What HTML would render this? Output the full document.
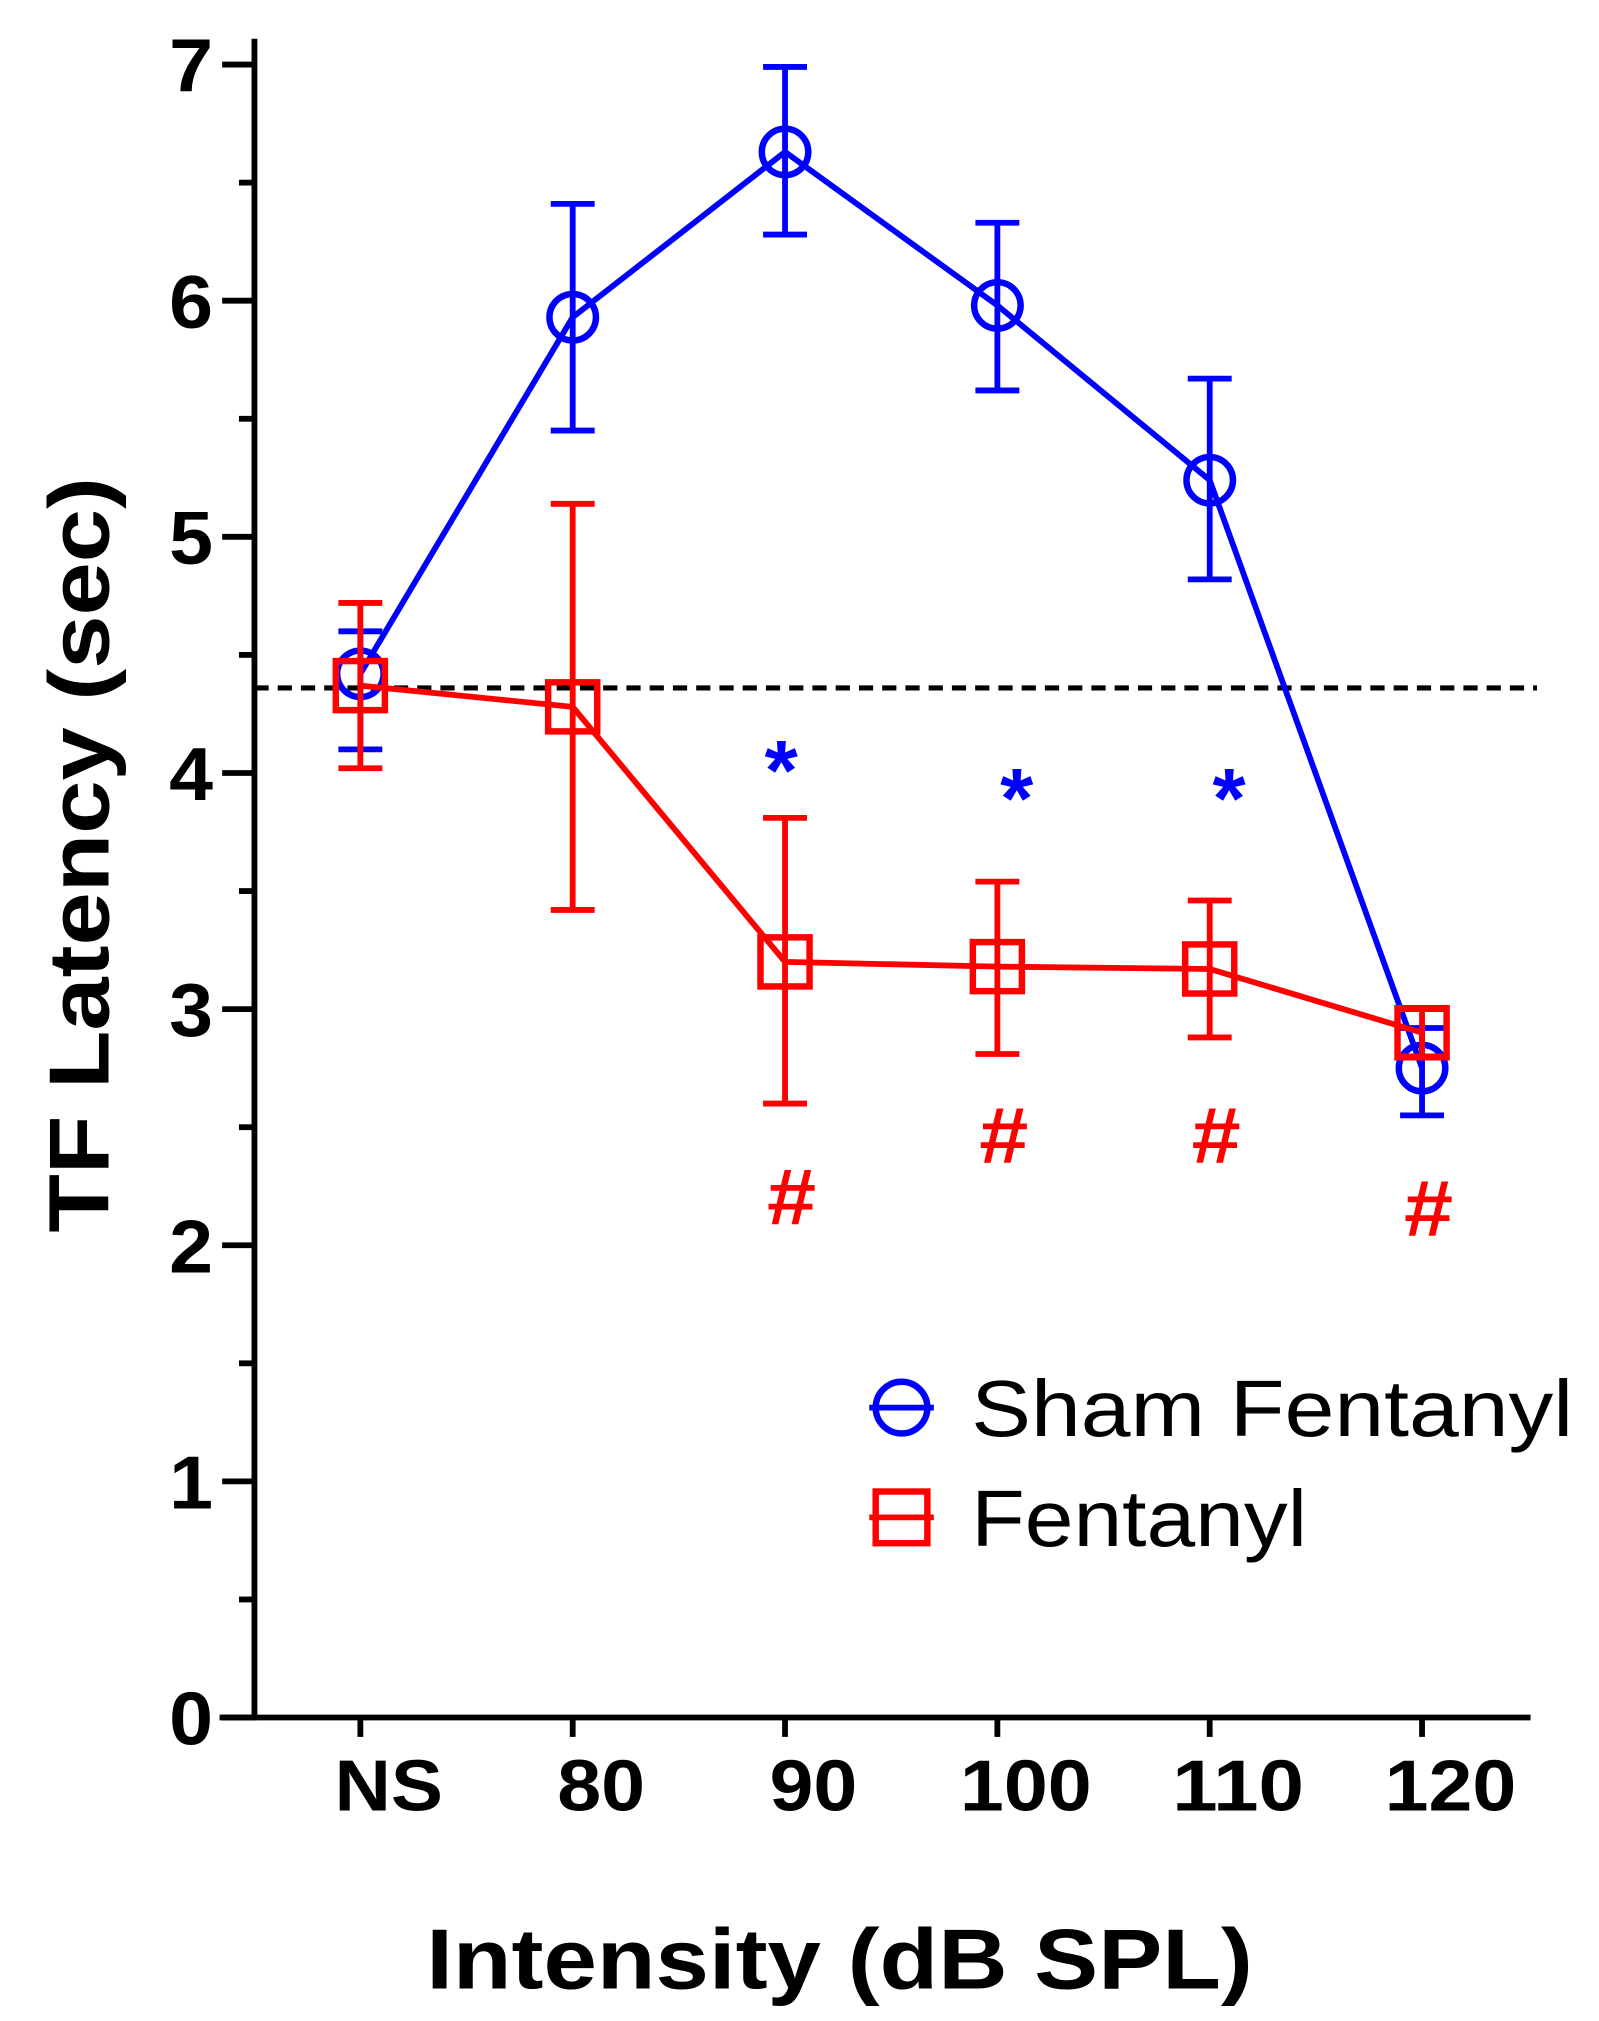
<!DOCTYPE html>
<html><head><meta charset="utf-8"><style>
html,body{margin:0;padding:0;background:#fff}
svg{display:block}
text{font-family:"Liberation Sans",Arial,sans-serif}
</style></head><body>
<svg id="chart" width="1599" height="2021" viewBox="0 0 1238 1565" preserveAspectRatio="none" xmlns="http://www.w3.org/2000/svg">
<g id="axes"></g><g id="series"></g>
</svg>
<script>
const categories = ["NS","80","90","100","110","120"];
const yTicks = [0,1,2,3,4,5,6,7];
const shamMean = [4.42,5.93,6.63,5.98,5.24,2.75];
const shamLow  = [4.10,5.45,6.28,5.62,4.82,2.55];
const shamHigh = [4.60,6.41,6.99,6.33,5.67,2.92];
const fentMean = [4.37,4.28,3.20,3.18,3.17,2.90];
const fentLow  = [4.02,3.42,2.60,2.81,2.88,2.80];
const fentHigh = [4.72,5.14,3.81,3.54,3.46,3.00];
const baseline = 4.36;
const starIdx = [2,3,4];
const starVal = [4.05,3.93,3.93];
const hashIdx = [2,3,4,5];
const hashVal = [2.22,2.48,2.48,2.17];

const NS='http://www.w3.org/2000/svg';
const X0=197, Y0=1330, YU=(1330-50)/7;
const xs=i=>279+i*164.4;
const ys=v=>Y0-v*YU;
function mk(tag,attrs,parent,txt){const e=document.createElementNS(NS,tag);for(const k in attrs)e.setAttribute(k,attrs[k]);if(txt!==undefined)e.textContent=txt;parent.appendChild(e);return e;}
const ax=document.getElementById('axes'), sr=document.getElementById('series');
let e;
e=mk('line',{x1:X0,y1:30,x2:X0,y2:Y0+2,stroke:'#000','stroke-width':4.5},ax);


e=mk('line',{x1:170,y1:Y0,x2:1185,y2:Y0,stroke:'#000','stroke-width':4.5},ax);


for(let v=0;v<=7;v+=0.5){mk('line',{x1:v%1?185:172,y1:ys(v),x2:X0,y2:ys(v),stroke:'#000','stroke-width':4.5},ax);}
yTicks.forEach(v=>{e=mk('text',{x:165,y:ys(v)+21,'text-anchor':'end','font-size':58,'font-weight':'bold',textLength:34,lengthAdjust:'spacingAndGlyphs'},ax,String(v));

});
categories.forEach((c,i)=>{mk('line',{x1:xs(i),y1:Y0,x2:xs(i),y2:Y0+15,stroke:'#000','stroke-width':4.5},ax);
const L=c.length===3?102:(c==='NS'?84:68);
e=mk('text',{x:xs(i)+22,y:1402,'text-anchor':'middle','font-size':56,'font-weight':'bold',textLength:L,lengthAdjust:'spacingAndGlyphs'},ax,c);

});
e=mk('text',{x:650,y:1540,'text-anchor':'middle','font-size':66,'font-weight':'bold',textLength:640,lengthAdjust:'spacingAndGlyphs'},ax,'Intensity (dB SPL)');


e=mk('text',{x:0,y:0,transform:'translate(84,662) rotate(-90)','text-anchor':'middle','font-size':66,'font-weight':'bold',textLength:585,lengthAdjust:'spacingAndGlyphs'},ax,'TF Latency (sec)');


e=mk('line',{x1:X0,y1:ys(baseline),x2:1190,y2:ys(baseline),stroke:'#000','stroke-width':4,'stroke-dasharray':'11,7'},ax);



function series(mean,lo,hi,col,shape,name){
  const g=mk('g',{},sr);
  
  
  mk('polyline',{points:mean.map((v,i)=>xs(i)+','+ys(v)).join(' '),fill:'none',stroke:col,'stroke-width':4.5},g);
  mean.forEach((v,i)=>{
    const x=xs(i);
    mk('line',{x1:x,y1:ys(lo[i]),x2:x,y2:ys(hi[i]),stroke:col,'stroke-width':4.5},g);
    mk('line',{x1:x-17,y1:ys(lo[i]),x2:x+17,y2:ys(lo[i]),stroke:col,'stroke-width':4.5},g);
    mk('line',{x1:x-17,y1:ys(hi[i]),x2:x+17,y2:ys(hi[i]),stroke:col,'stroke-width':4.5},g);
    let m;
    if(shape==='circle') m=mk('circle',{cx:x,cy:ys(v),r:18,fill:'none',stroke:col,'stroke-width':5},g);
    else m=mk('rect',{x:x-19,y:ys(v)-19,width:38,height:38,fill:'none',stroke:col,'stroke-width':5},g);
    
    
  });
}
series(shamMean,shamLow,shamHigh,'#0000ff','circle','sham-fentanyl');
series(fentMean,fentLow,fentHigh,'#ff0000','square','fentanyl');
starIdx.forEach((i,k)=>{e=mk('text',{x:xs(i)+(k?15:-3),y:ys(starVal[k])+30,'text-anchor':'middle','font-size':66,'font-weight':'bold',fill:'#0000ff'},sr,'*');

});
hashIdx.forEach((i,k)=>{e=mk('text',{x:xs(i)+5,y:ys(hashVal[k])+24,'text-anchor':'middle','font-size':62,'font-weight':'bold',fill:'#ff0000',textLength:38,lengthAdjust:'spacingAndGlyphs'},sr,'#');

});
// legend
const lg=mk('g',{},sr);


mk('line',{x1:673,y1:1090,x2:723,y2:1090,stroke:'#0000ff','stroke-width':4.5},lg);
mk('circle',{cx:698,cy:1090,r:20,fill:'none',stroke:'#0000ff','stroke-width':5},lg);
e=mk('text',{x:752,y:1112,'font-size':62,textLength:466,lengthAdjust:'spacingAndGlyphs'},lg,'Sham Fentanyl');


mk('line',{x1:673,y1:1175,x2:723,y2:1175,stroke:'#ff0000','stroke-width':4.5},lg);
mk('rect',{x:678,y:1155,width:40,height:40,fill:'none',stroke:'#ff0000','stroke-width':5},lg);
e=mk('text',{x:752,y:1197,'font-size':62,textLength:260,lengthAdjust:'spacingAndGlyphs'},lg,'Fentanyl');


</script>
</body></html>
